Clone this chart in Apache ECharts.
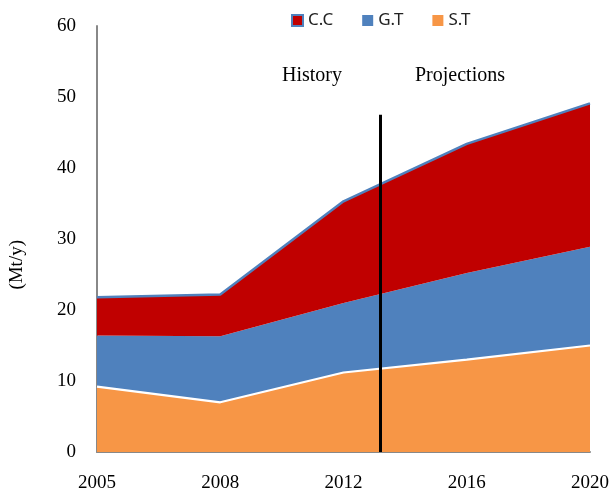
<!DOCTYPE html>
<html>
<head>
<meta charset="utf-8">
<script src="https://cdn.jsdelivr.net/npm/echarts@6/dist/echarts.min.js"></script>
<style>
  html, body { margin: 0; padding: 0; background: #fff; }
  #main { width: 613px; height: 495px; }
</style>
</head>
<body>
<div id="main"></div>
<script>
// years on the x axis (equally spaced)
var years = ['2005', '2008', '2012', '2016', '2020'];
// stacked layers, Mt/y
var stValues = [9.2, 7.0, 11.2, 13.0, 15.0];
var gtValues = [7.2, 9.3, 9.8, 12.2, 13.9];
var ccValues = [5.4, 5.9, 14.3, 18.2, 20.2];
var yTicks = [0, 10, 20, 30, 40, 50, 60];
// history / projections split, in x index units
var splitAt = 2.3;
var splitTop = 47.5;

var myChart = echarts.init(document.getElementById('main'));

var serif = 'Liberation Serif';

var option = {
    animation: false,
    legend: {
        data: ['C.C', 'G.T', 'S.T'],
        left: 286,
        top: 7,
        icon: 'rect',
        itemWidth: 11,
        itemHeight: 11,
        itemGap: 29,
        textStyle: { fontFamily: 'Noto Sans', fontSize: 17, color: '#222' }
    },
    grid: {
        left: 97,
        right: 23,
        top: 26,
        bottom: 43
    },
    xAxis: [
        {
            type: 'category',
            data: years,
            boundaryGap: false,
            splitLine: { show: false },
            axisTick: { show: false },
            axisLine: { show: true, lineStyle: { color: '#888', width: 2 } },
            axisLabel: {
                margin: 22,
                fontFamily: serif,
                fontSize: 19,
                color: '#000',
                interval: 0
            }
        },
        {
            // hidden helper axis for the split line
            type: 'value',
            min: 0,
            max: years.length - 1,
            show: false
        }
    ],
    yAxis: {
        type: 'value',
        min: yTicks[0],
        max: yTicks[yTicks.length - 1],
        interval: 10,
        splitLine: { show: false },
        axisTick: { show: false },
        axisLine: { show: true, lineStyle: { color: '#888', width: 2 } },
        axisLabel: {
            margin: 21,
            fontFamily: serif,
            fontSize: 19,
            color: '#000'
        }
    },
    graphic: [
        {
            type: 'text',
            left: 8,
            top: 240,
            rotation: Math.PI / 2,
            style: { text: '(Mt/y)', font: '19px "Liberation Serif"', fill: '#000' }
        },
        {
            type: 'text',
            left: 282,
            top: 66,
            style: { text: 'History', font: '20px "Liberation Serif"', fill: '#000' }
        },
        {
            type: 'text',
            left: 415,
            top: 66,
            style: { text: 'Projections', font: '20px "Liberation Serif"', fill: '#000' }
        }
    ],
    series: [
        {
            name: 'S.T',
            type: 'line',
            stack: 'total',
            data: stValues,
            showSymbol: false,
            itemStyle: { color: '#F79646' },
            lineStyle: { color: '#fff', width: 2.2 },
            areaStyle: { color: '#F79646', opacity: 1 }
        },
        {
            name: 'G.T',
            type: 'line',
            stack: 'total',
            data: gtValues,
            showSymbol: false,
            itemStyle: { color: '#4F81BD' },
            lineStyle: { width: 0 },
            areaStyle: { color: '#4F81BD', opacity: 1 }
        },
        {
            name: 'C.C',
            type: 'line',
            stack: 'total',
            data: ccValues,
            showSymbol: false,
            itemStyle: { color: '#C00000', borderColor: '#4F81BD', borderWidth: 1 },
            lineStyle: { color: '#4F81BD', width: 2.5 },
            areaStyle: { color: '#C00000', opacity: 1 }
        },
        {
            name: 'split',
            type: 'line',
            xAxisIndex: 1,
            data: [],
            markLine: {
                silent: true,
                z: 10,
                symbol: ['none', 'none'],
                label: { show: false },
                lineStyle: { color: '#000', width: 3, type: 'solid' },
                data: [
                    [{ coord: [splitAt, splitTop] }, { coord: [splitAt, 0] }]
                ]
            }
        }
    ]
};

myChart.setOption(option);
</script>
</body>
</html>
